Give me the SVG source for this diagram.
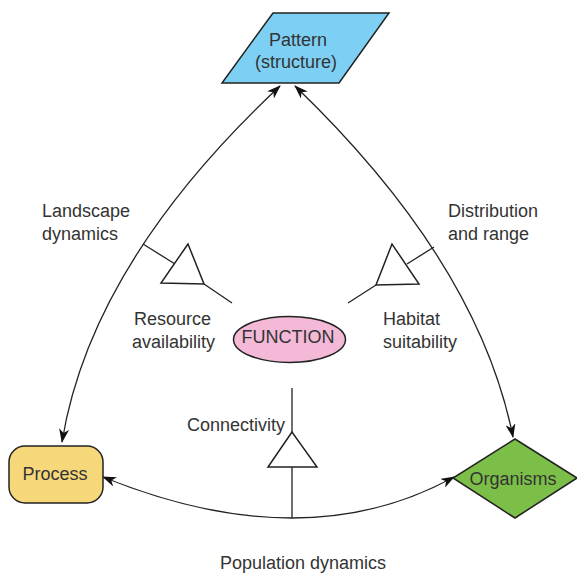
<svg xmlns="http://www.w3.org/2000/svg" width="577" height="578" viewBox="0 0 577 578">
<defs>
<style>
text{font-family:"Liberation Sans",Arial,sans-serif;font-size:18px;fill:#333}
.c{text-anchor:middle}
.e{text-anchor:end}
.ln{fill:none;stroke:#222;stroke-width:1.3}
.tri{fill:#fff;stroke:#222;stroke-width:1.5}
.nd{stroke:#222;stroke-width:1.5}
</style>
<marker id="ah" viewBox="0 0 14 10" refX="13" refY="5" markerWidth="14" markerHeight="10" markerUnits="userSpaceOnUse" orient="auto-start-reverse">
<path d="M0,0 L14,5 L0,10 L4,5 Z" fill="#111"/>
</marker>
</defs>
<rect width="577" height="578" fill="#fff"/>
<g id="connectors">
<path class="ln" d="M280,86 Q91,263 62,442" marker-start="url(#ah)" marker-end="url(#ah)"/>
<path class="ln" d="M295,86 Q478,262 513,437" marker-start="url(#ah)" marker-end="url(#ah)"/>
<path class="ln" d="M103,477 Q305,559 454,477" marker-start="url(#ah)" marker-end="url(#ah)"/>
<line class="ln" x1="143" y1="244" x2="175" y2="264"/>
<line class="ln" x1="204" y1="284" x2="232" y2="303"/>
<line class="ln" x1="407" y1="264" x2="434" y2="247"/>
<line class="ln" x1="376" y1="285" x2="348" y2="303"/>
<line class="ln" x1="292" y1="388" x2="292" y2="432"/>
<line class="ln" x1="292" y1="467" x2="292" y2="518"/>
</g>
<g id="tri-resource"><polygon class="tri" points="188,244 161,283 204,284"/></g>
<g id="tri-habitat"><polygon class="tri" points="392,244 376,285 419,284"/></g>
<g id="tri-connectivity"><polygon class="tri" points="292,432 268,467 317,467"/></g>
<g id="pattern">
<polygon class="nd" fill="#7dd0f3" points="273,13 389,13 339,83 222,83"/>
<text class="c" x="298" y="46">Pattern</text>
<text class="c" x="296" y="68">(structure)</text>
</g>
<g id="process">
<rect class="nd" fill="#f6d77a" x="9" y="446" width="94" height="57" rx="16"/>
<text class="c" x="55" y="480">Process</text>
</g>
<g id="organisms">
<polygon class="nd" fill="#7cbf48" points="515,439 577,478 515,518 453,478"/>
<text class="c" x="513" y="485">Organisms</text>
</g>
<g id="function">
<ellipse class="nd" fill="#f3b9d7" cx="289.5" cy="339.5" rx="56" ry="23" stroke-width="2"/>
<text class="c" x="288" y="343">FUNCTION</text>
</g>
<g id="labels">
<text x="42" y="217">Landscape</text>
<text x="42" y="240">dynamics</text>
<text x="448" y="217">Distribution</text>
<text x="448" y="240">and range</text>
<text class="e" x="211" y="325">Resource</text>
<text class="e" x="215" y="348">availability</text>
<text x="383" y="325">Habitat</text>
<text x="383" y="348">suitability</text>
<text class="e" x="285" y="431">Connectivity</text>
<text class="c" x="303" y="569">Population dynamics</text>
</g>
</svg>
